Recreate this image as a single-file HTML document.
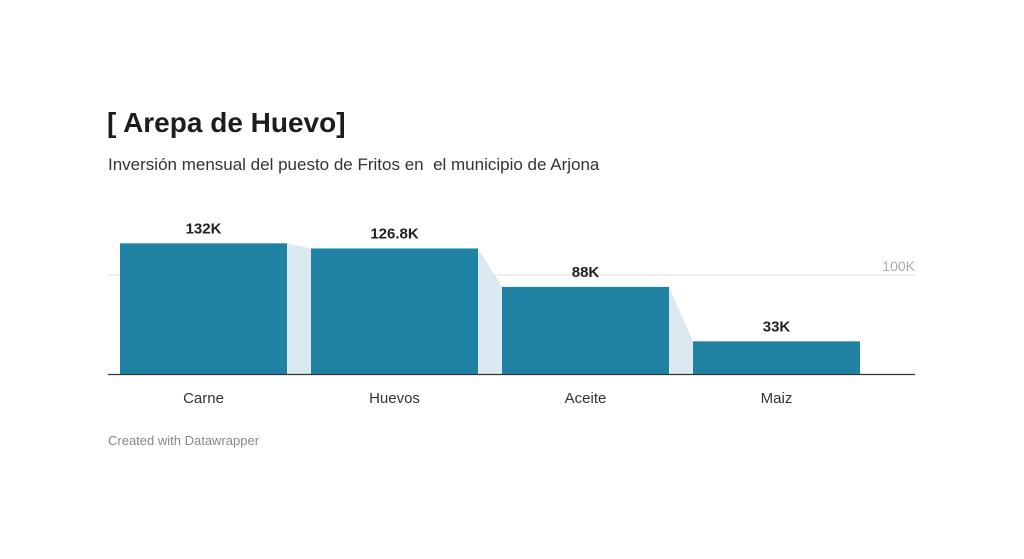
<!DOCTYPE html>
<html><head><meta charset="utf-8"><style>
body{margin:0;background:#fff;width:1024px;height:559px;overflow:hidden;font-family:"Liberation Sans",sans-serif}
#title{position:absolute;left:107px;top:107px;font-size:28px;font-weight:bold;color:#1d1d1d;margin:0}
#sub{position:absolute;left:108px;top:155px;font-size:17px;color:#333}
#credit{position:absolute;left:108px;top:433px;font-size:13px;color:#888}
svg{position:absolute;left:0;top:0}
</style></head><body>
<h1 id="title">[ Arepa de Huevo]</h1>
<div id="sub">Inversión mensual del puesto de Fritos en&nbsp; el municipio de Arjona</div>
<div id="credit">Created with Datawrapper</div>
<svg width="1024" height="559">
<g id="g"></g>
</svg>
<script>
const categories=["Carne","Huevos","Aceite","Maiz"];
const values=[132,126.8,88,33];
const valueLabels=["132K","126.8K","88K","33K"];
const gridTicks=[100];
const gridLabels=["100K"];
const base=374,scale=0.99,x0=120,step=191,bw=167,right=915;
const y=v=>base-v*scale, x=i=>x0+i*step;
const g=document.getElementById('g');
const NS="http://www.w3.org/2000/svg";
function mk(t,a){const e=document.createElementNS(NS,t);for(const k in a)e.setAttribute(k,a[k]);g.appendChild(e);return e;}
gridTicks.forEach((t,i)=>{
 const l=mk('line',{x1:108,x2:right,y1:y(t),y2:y(t),stroke:'#e2e2e2','stroke-width':1});
 
 
 const tx=mk('text',{x:right,y:y(t)-4,'text-anchor':'end','font-size':14,fill:'#aaa'});
 tx.textContent=gridLabels[i];
 
 
});
for(let i=0;i<values.length-1;i++){
 const a=x(i)+bw,b=x(i+1);
 const p=mk('polygon',{points:`${a},${y(values[i])} ${b},${y(values[i+1])} ${b},${base} ${a},${base}`,fill:'#dbeaf0'});
 
 
}
values.forEach((v,i)=>{
 const r=mk('rect',{x:x(i),y:y(v),width:bw,height:base-y(v),fill:'#1f82a2'});
 
 
 const t=mk('text',{x:x(i)+bw/2,y:y(v)-10,'text-anchor':'middle','font-size':15,'font-weight':'bold',fill:'#222'});
 t.textContent=valueLabels[i];
 
 
 const c=mk('text',{x:x(i)+bw/2,y:403,'text-anchor':'middle','font-size':15,fill:'#333'});
 c.textContent=categories[i];
 
 
});
const ax=mk('line',{x1:108,x2:right,y1:base+0.5,y2:base+0.5,stroke:'#333','stroke-width':1.2});


</script>
</body></html>
